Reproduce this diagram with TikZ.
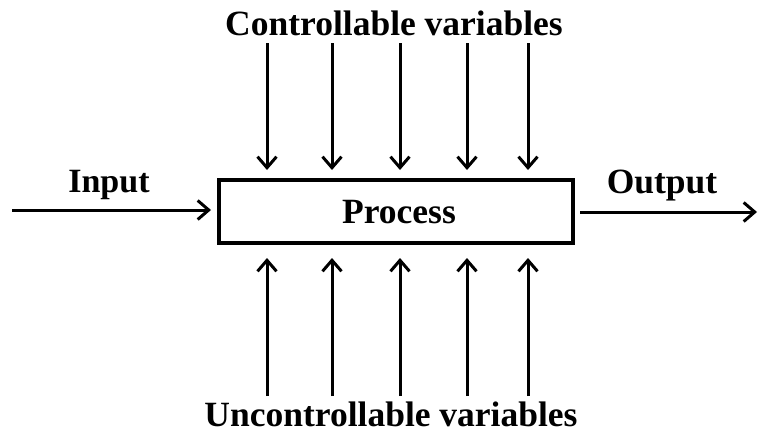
\documentclass[tikz,border=0pt]{standalone}
\usepackage{fontspec}
\setmainfont{Liberation Serif}
\usetikzlibrary{arrows.meta}
\begin{document}
\begin{tikzpicture}[x=1pt,y=-1pt,
  lbl/.style={font=\fontsize{35.5}{40}\selectfont\bfseries, inner sep=0pt},
  arr/.style={line width=3pt, -{Straight Barb[length=11pt,width=19pt,line width=3pt]}},
  procbox/.style={draw, line width=4pt, minimum width=354pt, minimum height=63pt, inner sep=0pt}]
\useasboundingbox (0,0) rectangle (758,434);
\node[procbox] (box) at (396,211.5) {};
\node[lbl, anchor=base] (proc) at (399,223) {Process};
\node[lbl, anchor=base] (ctl) at (394,35) {Controllable variables};
\node[lbl, anchor=base] (unc) at (391,426) {Uncontrollable variables};
\node[lbl, anchor=base, font=\fontsize{34}{38}\selectfont\bfseries] (inp) at (109,192) {Input};
\node[lbl, anchor=base] (outp) at (662,193) {Output};
\foreach \i/\x in {1/267,2/332,3/400,4/467,5/528}{
  \coordinate (t\i) at (\x,43);
  \coordinate (b\i) at (\x,396);
  \draw[arr, shorten >=8pt] (t\i) -- (t\i |- box.north);
  \draw[arr, shorten >=13pt] (b\i) -- (b\i |- box.south);
}
\coordinate (in) at (12,210);
\coordinate (out) at (757,212);
\draw[arr, shorten >=6pt] (in) -- (in -| box.west);
\draw[arr, shorten <=5pt] (out -| box.east) -- (out);
\end{tikzpicture}
\end{document}
